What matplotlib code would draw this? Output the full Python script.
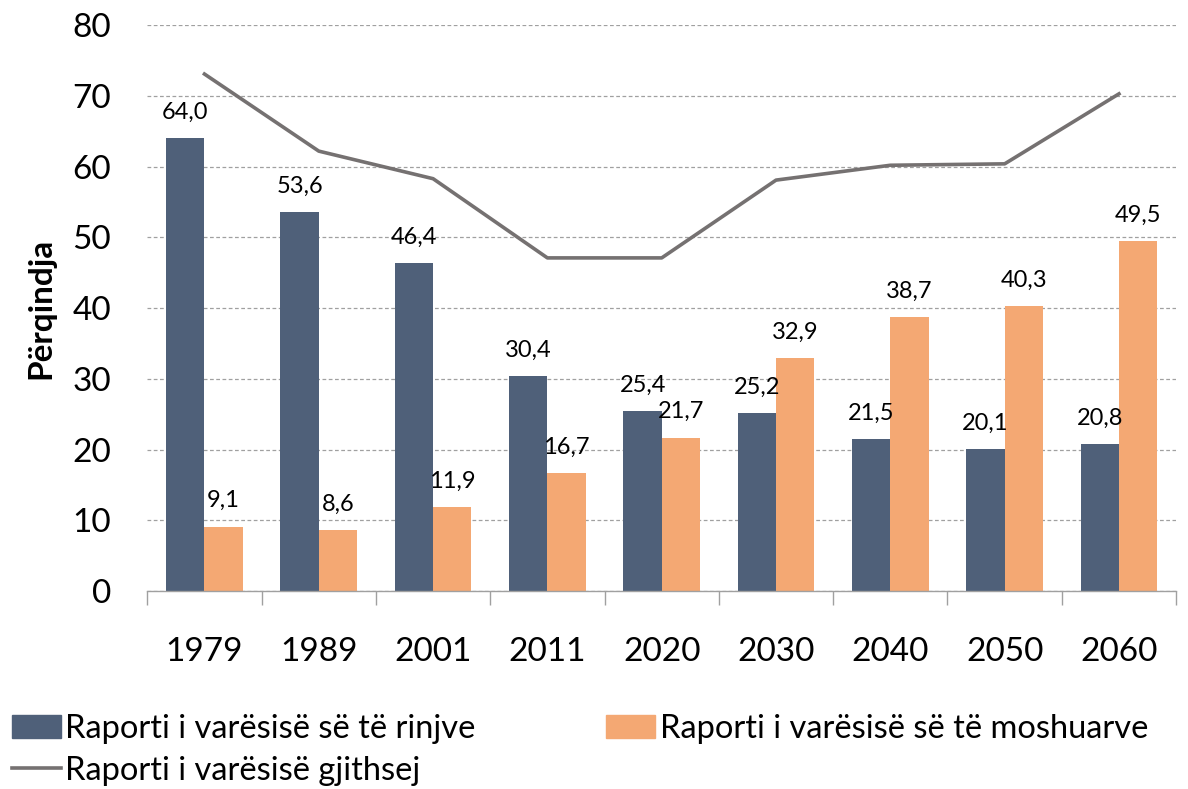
import numpy as np
import matplotlib.pyplot as plt
from matplotlib.patches import Patch
from matplotlib.lines import Line2D

plt.rcParams['font.family'] = ['Lato', 'DejaVu Sans']

years = ["1979", "1989", "2001", "2011", "2020", "2030", "2040", "2050", "2060"]
young = [64.0, 53.6, 46.4, 30.4, 25.4, 25.2, 21.5, 20.1, 20.8]
old = [9.1, 8.6, 11.9, 16.7, 21.7, 32.9, 38.7, 40.3, 49.5]
total = [73.1, 62.2, 58.3, 47.1, 47.1, 58.1, 60.2, 60.4, 70.3]

c_young = '#4f6079'
c_old = '#f4a873'
c_line = '#757171'

fig = plt.figure(figsize=(11.88, 7.89), dpi=100)
ax = fig.add_axes([0.124, 0.251, 0.866, 0.717])

x = np.arange(len(years))
w = 0.335
ax.bar(x - w / 2, young, w, color=c_young, zorder=2)
ax.bar(x + w / 2, old, w, color=c_old, zorder=2)
ax.plot(x, total, color=c_line, lw=2.6, zorder=3)

for i in range(len(years)):
    ax.annotate(f"{young[i]:.1f}".replace('.', ','), (x[i] - w / 2, young[i]),
                xytext=(0, 11), textcoords='offset points', ha='center', va='bottom', fontsize=17)
    ax.annotate(f"{old[i]:.1f}".replace('.', ','), (x[i] + w / 2, old[i]),
                xytext=(0, 11), textcoords='offset points', ha='center', va='bottom', fontsize=17)

ax.set_xlim(-0.5, len(years) - 0.5)
ax.set_ylim(0, 80)
ax.set_yticks(range(0, 81, 10))
ax.yaxis.grid(True, linestyle=(0, (3, 2)), color='#a0a0a0', lw=0.9, zorder=0)
ax.set_xticks(x)
ax.set_xticklabels(years, fontsize=24)
ax.set_xticks(np.arange(-0.5, len(years)), minor=True)
ax.tick_params(axis='x', which='major', length=0, pad=33)
ax.tick_params(axis='x', which='minor', length=10, color='#a0a0a0', width=1)
ax.tick_params(axis='y', length=0, labelsize=24, pad=26)
for s in ['top', 'right', 'left']:
    ax.spines[s].set_visible(False)
ax.spines['bottom'].set_color('#a0a0a0')
ax.spines['bottom'].set_linewidth(1)
ax.set_ylabel("Përqindja", fontsize=24, fontweight='bold', labelpad=12)

handles = [Patch(color=c_young), Line2D([], [], color=c_line, lw=2.6), Patch(color=c_old)]
labels = ["Raporti i varësisë së të rinjve", "Raporti i varësisë gjithsej",
          "Raporti i varësisë së të moshuarve"]
fig.legend(handles, labels, ncol=2, loc='lower left', bbox_to_anchor=(0.007, 0.0),
           frameon=False, fontsize=23.5, handlelength=1.5, handletextpad=0.15,
           columnspacing=4.0, labelspacing=0.35, borderaxespad=0, borderpad=0.1)

fig.savefig("out.png", dpi=100)
